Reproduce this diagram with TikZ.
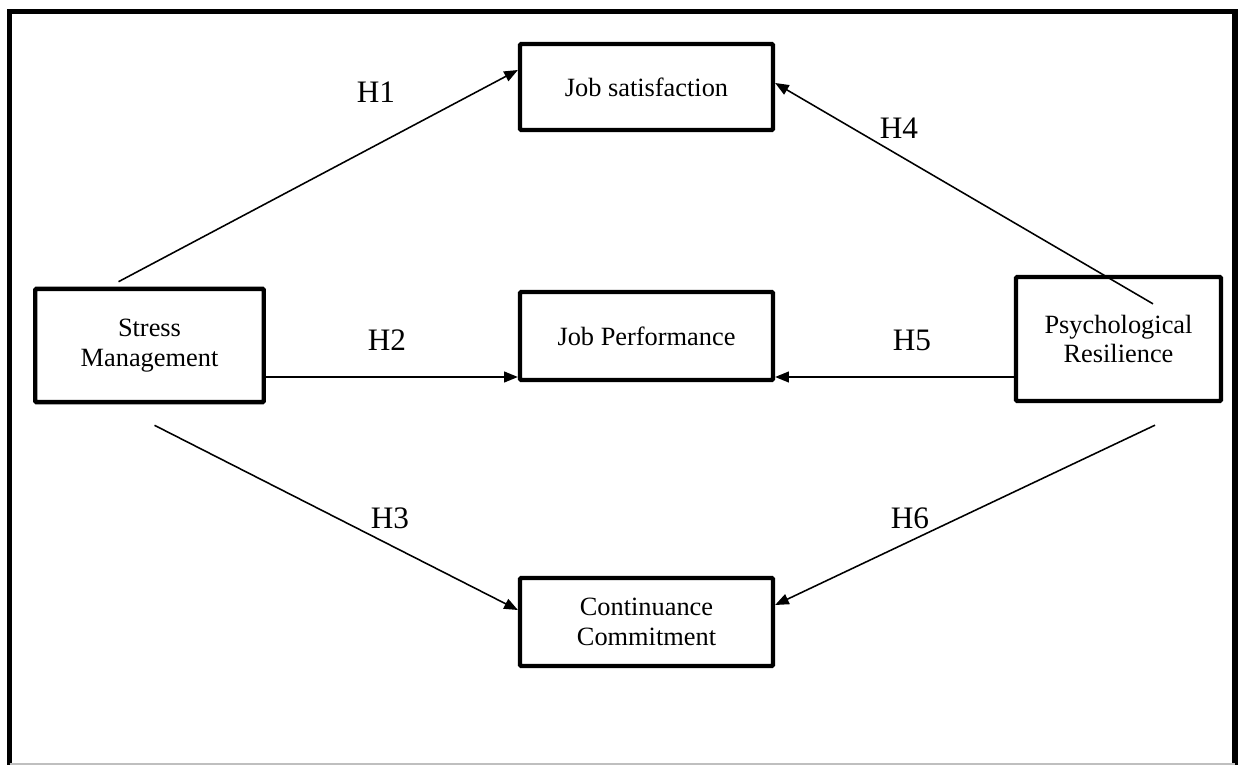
\documentclass[tikz,border=0pt]{standalone}
\usepackage{fontspec}
\setmainfont{Liberation Serif}
\usetikzlibrary{arrows.meta, positioning, calc}

\begin{document}
\begin{tikzpicture}[
    x=0.512pt, y=-0.512pt,
    font=\fontsize{13.5}{15}\selectfont,
    var/.style={draw=black, line width=2.2pt, fill=white, align=center,
                inner sep=2pt, rounded corners=0.6pt},
    hyp/.style={-{Triangle[length=7pt,width=5.5pt]}, line width=0.8pt},
    hlabel/.style={font=\fontsize{16}{18}\selectfont},
]
\useasboundingbox (0,0) rectangle (1240,765);

% --- outer frame (bottom edge cut by the page) ---
\draw[line width=2.6pt] (9.5,770) |- (1235,11.5) -- (1235,770);
\draw[black!25, line width=0.8pt] (9.5,764) -- (1235,764);

% --- constructs ---
\node[var, minimum width=129.5pt, minimum height=44pt] (satis) at (646.5,87) {Job satisfaction};
\node[var, minimum width=129.5pt, minimum height=45pt] (perf) at (646.5,336) {Job Performance};
\node[var, minimum width=129.5pt, minimum height=45pt] (commit) at (646.5,622) {Continuance\\Commitment};
\node[var, minimum width=117pt, minimum height=58pt] (stress) at (149.5,345.5) {Stress\\Management};
\node[var, minimum width=105pt, minimum height=63.5pt] (resil) at (1118.5,339) {Psychological\\Resilience};

% --- free ends of the paths ---
\coordinate (h1s) at ($(stress.north)+(-31,-5)$);
\coordinate (h2s) at ($(stress.east)+(0,31.5)$);
\coordinate (h3s) at ($(stress.south)+(5,21)$);
\coordinate (h4s) at ($(resil.north)+(34.5,29)$);
\coordinate (h5s) at ($(resil.west)+(0,38)$);
\coordinate (h6s) at ($(resil.south)+(36.5,22)$);

% --- hypotheses ---
\draw[hyp] (h1s) -- ($(satis.west)+(0,-17)$);
\draw[hyp] (h2s) -- (perf.west |- h2s);
\draw[hyp] (h3s) -- ($(commit.west)+(0,-12)$);
\draw[hyp] (h4s) -- ($(satis.east)+(0,-4)$);
\draw[hyp] (h5s) -- (perf.east |- h5s);
\draw[hyp] (h6s) -- ($(commit.east)+(0,-17)$);

\node[hlabel] (l1) at (376,92) {H1};
\node[hlabel] (l2) at (387,340) {H2};
\node[hlabel] (l3) at (390,518) {H3};
\node[hlabel] (l4) at (899,128) {H4};
\node[hlabel] (l5) at (912,340) {H5};
\node[hlabel] (l6) at (910,518) {H6};

\end{tikzpicture}
\end{document}
